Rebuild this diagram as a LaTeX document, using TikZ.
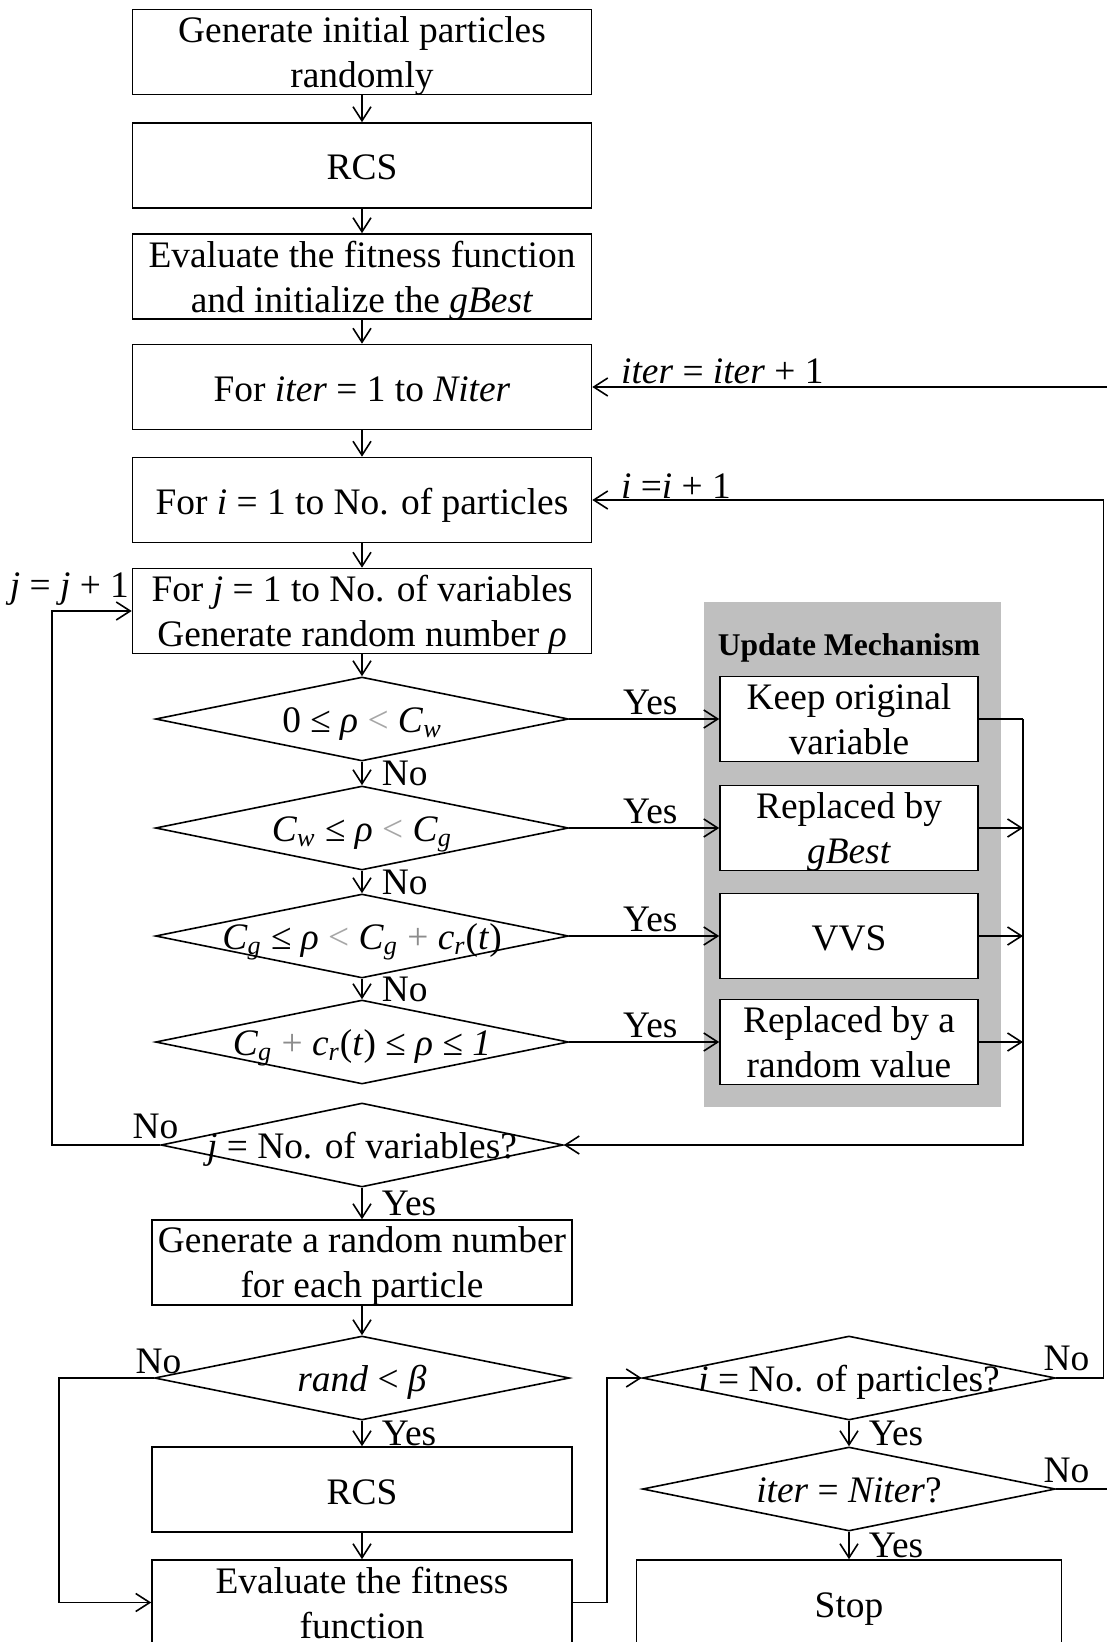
\documentclass[tikz,border=0pt]{standalone}
\usepackage{fontspec}
\setmainfont{Liberation Serif}
\usetikzlibrary{shapes.geometric,arrows.meta}

\newcommand{\dtxt}[1]{\makebox[0pt]{#1}}
\newcommand{\isub}[1]{\textsubscript{\textit{#1}}}
\newcommand{\grlt}{\textcolor{black!35}{<}}
\newcommand{\grpl}{\textcolor{black!45}{+}}

\tikzset{
  blk/.style={draw, minimum width=229.5pt, minimum height=42.5pt, inner sep=1pt, align=center},
  oneline/.style={text height=14.5pt, text depth=0pt},
  twoline/.style={text depth=-1pt},
  dec/.style={draw, shape=diamond, minimum width=206.5pt, minimum height=42pt, inner sep=0pt, text height=13.4pt, text depth=0pt},
  upd/.style={draw, fill=white, minimum width=129pt, minimum height=42.5pt, inner sep=1pt, align=center},
  lbl/.style={inner sep=1.5pt},
}

\begin{document}
\begin{tikzpicture}[x=0.5pt, y=-0.5pt, node distance=55.5pt, >={Straight Barb[length=7pt,width=9pt]}, line width=0.8pt,
    every node/.append style={font=\fontsize{18.7pt}{22.5pt}\selectfont}]
  \path[use as bounding box] (0,0) rectangle (1107,1642);
  \clip (0,0) rectangle (1107,1642);

  % update mechanism panel
  \fill[black!25] (704,602) rectangle (1001,1107);
  \node (updtitle) [anchor=base, font=\bfseries\fontsize{15.8pt}{18pt}\selectfont] at (849,655) {Update Mechanism};

  % main column
  \node (init) [blk, twoline] at (362,52) {Generate initial particles\\randomly};
  \node (rcsa) [blk, oneline, node distance=56.75pt, below of=init] {RCS};
  \node (evala) [blk, twoline, below of=rcsa] {Evaluate the fitness function\\and initialize the \textit{gBest}};
  \node (forit) [blk, oneline, node distance=55.25pt, below of=evala] {For \textit{iter} = 1 to \textit{Niter}};
  \node (fori) [blk, oneline, node distance=56.5pt, below of=forit] {For \textit{i} = 1 to No. of particles};
  \node (forj) [blk, twoline, below of=fori] {For \textit{j} = 1 to No. of variables\\Generate random number \textit{ρ}};
  \node (c1) [dec, node distance=54pt, below of=forj] {\dtxt{0 ≤ \textit{ρ} \grlt{} \textit{C}\isub{w}}};
  \node (c2) [dec, node distance=54.5pt, below of=c1] {\dtxt{\textit{C}\isub{w} ≤ \textit{ρ} \grlt{} \textit{C}\isub{g}}};
  \node (c3) [dec, node distance=54pt, below of=c2] {\dtxt{\textit{C}\isub{g} ≤ \textit{ρ} \grlt{} \textit{C}\isub{g} \grpl{} \textit{c}\isub{r}(\textit{t})}};
  \node (c4) [dec, node distance=53pt, below of=c3] {\dtxt{\textit{C}\isub{g} \grpl{} \textit{c}\isub{r}(\textit{t}) ≤ \textit{ρ} ≤ \textit{1}}};
  \node (jend) [dec, minimum width=201pt, node distance=51.5pt, below of=c4] {\dtxt{\textit{j} = No. of variables?}};
  \node (gen) [blk, twoline, minimum width=210pt, node distance=58.75pt, below of=jend] {Generate a random number\\for each particle};
  \node (randb) [dec, minimum width=207.5pt, node distance=57.75pt, below of=gen] {\dtxt{\textit{rand} < \textit{β}}};
  \node (rcsb) [blk, oneline, minimum width=210pt, node distance=55.75pt, below of=randb] {RCS};
  \node (evalb) [blk, twoline, minimum width=210pt, node distance=56.5pt, below of=rcsb] {Evaluate the fitness\\function};

  % update boxes
  \node (keep) [upd, twoline, node distance=243.5pt, right of=c1] {Keep original\\variable};
  \node (gbest) [upd, twoline, node distance=243.5pt, right of=c2] {Replaced by\\\textit{gBest}};
  \node (vvs) [upd, oneline, node distance=243.5pt, right of=c3] {VVS};
  \node (rval) [upd, twoline, node distance=243.5pt, right of=c4] {Replaced by a\\random value};
  \coordinate (col) at (1023,719);

  % right column
  \node (stop) [blk, oneline, minimum width=212.5pt, node distance=243.5pt, right of=evalb] {Stop};
  \node (itend) [dec, node distance=56.75pt, above of=stop] {\dtxt{\textit{iter} = \textit{Niter}?}};
  \node (ipart) [dec, above of=itend] {\dtxt{\textit{i} = No. of particles?}};

  \draw[->] (init) -- (rcsa);
  \draw[->] (rcsa) -- (evala);
  \draw[->] (evala) -- (forit);
  \draw[->] (forit) -- (fori);
  \draw[->] (fori) -- (forj);
  \draw[->] (forj) -- (c1);
  \draw[->] (c1) -- node[lbl, right=8pt] {No} (c2);
  \draw[->] (c2) -- node[lbl, right=8pt] {No} (c3);
  \draw[->] (c3) -- node[lbl, right=8pt] {No} (c4);
  \draw[->] (c1) -- node[lbl, above, xshift=3pt] {Yes} (keep);
  \draw[->] (c2) -- node[lbl, above, xshift=3pt] {Yes} (gbest);
  \draw[->] (c3) -- node[lbl, above, xshift=3pt] {Yes} (vvs);
  \draw[->] (c4) -- node[lbl, above, xshift=3pt] {Yes} (rval);
  \draw (keep) -- (col);
  \draw[->] (gbest) -- (gbest -| col);
  \draw[->] (vvs) -- (vvs -| col);
  \draw[->] (rval) -- (rval -| col);
  \draw[->] (col) |- (jend);
  \draw[->] (jend.west) -- ++(-108,0) |- (forj.west);
  \node[lbl, anchor=base east, xshift=11pt, yshift=3.5pt] at (jend.west) {No};
  \node[inner sep=0pt, anchor=base east, xshift=-1pt, yshift=7pt] at (forj.west) {\textit{j} = \textit{j} + 1};
  \draw[->] (jend) -- node[lbl, right=8pt] {Yes} (gen);
  \draw[->] (gen) -- (randb);
  \draw[->] (randb) -- node[lbl, right=8pt] {Yes} (rcsb);
  \draw[->] (rcsb) -- (evalb);
  \draw[->] (randb.west) -- ++(-95,0) |- (evalb.west);
  \node[lbl, anchor=base east, xshift=15.75pt, yshift=2.5pt] at (randb.west) {No};
  \draw[->] (evalb.east) -- ++(34,0) |- (ipart.west);
  \draw[->] (ipart) -- node[lbl, right=8pt] {Yes} (itend);
  \draw[->] (itend) -- node[lbl, right=8pt] {Yes} (stop);
  \draw[->] (ipart.east) -- ++(47,0) |- (fori.east);
  \node[lbl, anchor=base west, xshift=-8.25pt, yshift=4pt] at (ipart.east) {No};
  \node[lbl, anchor=base west, xshift=12.5pt, yshift=1pt] at (fori.east) {\textit{i} =\textit{i} + 1};
  \draw[->] (itend.east) -- ++(80,0) |- (forit.east);
  \node[lbl, anchor=base west, xshift=-8.25pt, yshift=3.5pt] at (itend.east) {No};
  \node[lbl, anchor=base west, xshift=12.5pt, yshift=1.5pt] at (forit.east) {\textit{iter} = \textit{iter} + 1};
\end{tikzpicture}
\end{document}
